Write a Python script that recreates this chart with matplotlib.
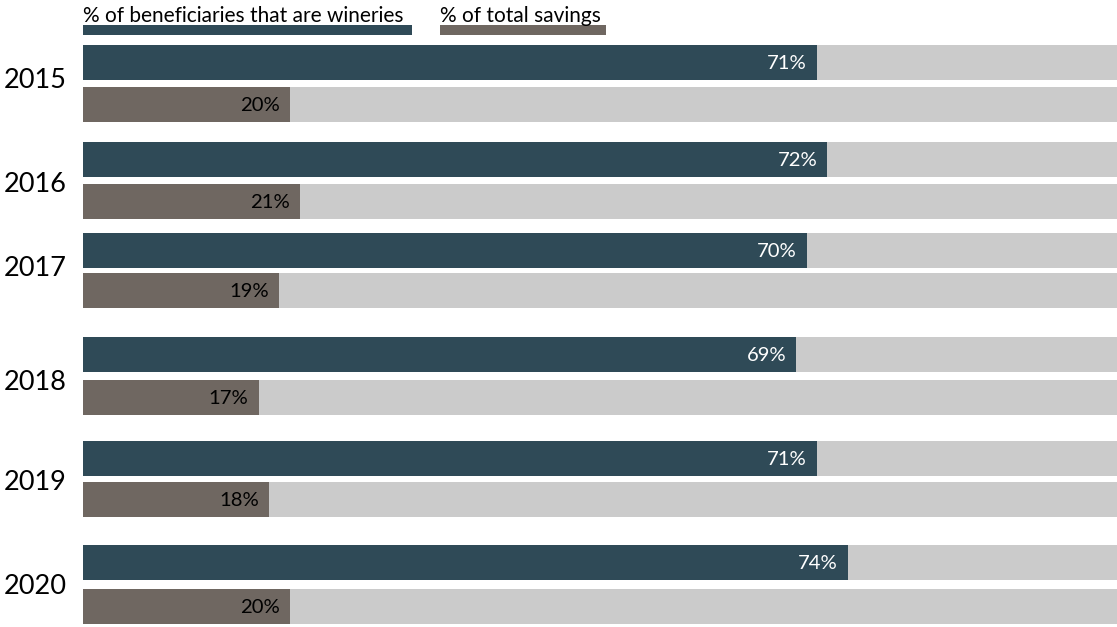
import matplotlib.pyplot as plt

years = ['2015', '2016', '2017', '2018', '2019', '2020']
wineries = [71, 72, 70, 69, 71, 74]
savings = [20, 21, 19, 17, 18, 20]

dark = '#2f4a57'
brown = '#6f6761'
light = '#cbcbcb'

plt.rcParams['font.family'] = ['Lato', 'DejaVu Sans']

# layout in pixels (top of each bar, year label centre)
top_dark = [45, 142, 233, 337, 441, 545]
top_brown = [87, 184, 273, 380, 482, 589]
label_y = [81, 185, 269, 383, 483, 587]
h = 35

fig = plt.figure(figsize=(11.17, 6.27), dpi=100)
ax = fig.add_axes([0, 0, 1, 1])
ax.set_xlim(-83 / 1034 * 100, 100)
ax.set_ylim(627, 0)
ax.axis('off')

for i, yr in enumerate(years):
    for top, val, col, tcol in [(top_dark[i], wineries[i], dark, 'white'),
                                (top_brown[i], savings[i], brown, 'black')]:
        ax.barh(top + h / 2, 100, height=h, color=light, left=0)
        ax.barh(top + h / 2, val, height=h, color=col, left=0)
        ax.text(val - 1, top + h / 2 + 1, f'{val}%', color=tcol, fontsize=14.6,
                ha='right', va='center')
    ax.text(-1.55, label_y[i], yr, fontsize=19.5, ha='right', va='center')

# legend
ax.barh(30, 412 / 1034 * 100 - 83 / 1034 * 100, height=10, left=0, color=dark)
ax.barh(30, (606 - 440) / 1034 * 100, height=10, left=(440 - 83) / 1034 * 100, color=brown)
ax.text(0, 15.5, '% of beneficiaries that are wineries', fontsize=15, va='center', ha='left')
ax.text((440 - 83) / 1034 * 100, 15.5, '% of total savings', fontsize=15, va='center', ha='left')

fig.savefig('out.png', dpi=100)
